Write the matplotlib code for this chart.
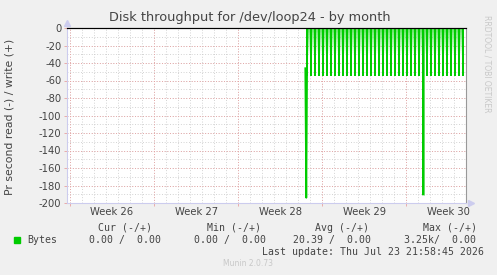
import numpy as np
import pandas as pd
import matplotlib
matplotlib.use('Agg')
import matplotlib.pyplot as plt
import matplotlib.dates as mdates

# x axis: iso weeks, mondays
week_names = ['Week 26', 'Week 27', 'Week 28', 'Week 29', 'Week 30']
week_starts = pd.to_datetime(['2026-06-22', '2026-06-29', '2026-07-06',
                              '2026-07-13', '2026-07-20'])

# read bytes/s (drawn negative), a spike every 8 hours
spike_times = pd.date_range('2026-07-11 18:00', periods=40, freq='8h')
spike_vals = [-55, -55, -55, -55, -55, -55, -55, -55, -55, -55,
              -55, -55, -55, -55, -55, -55, -55, -55, -55, -55,
              -55, -55, -55, -55, -55, -55, -55, -55, -55, -191,
              -55, -55, -55, -55, -55, -55, -55, -55, -55, -55]
# first samples after the gap
start_times = pd.to_datetime(['2026-07-11 14:00', '2026-07-11 16:00', '2026-07-11 18:00'])
start_vals = [-46, -194, 0]

yticks = [0, -20, -40, -60, -80, -100, -120, -140, -160, -180, -200]

legend_head = ['Cur (-/+)', 'Min (-/+)', 'Avg (-/+)', 'Max (-/+)']
legend_vals = ['0.00 /  0.00', '0.00 /  0.00', '20.39 /  0.00', '3.25k/  0.00']

green = '#00cc00'
W, H = 497, 275
fig = plt.figure(figsize=(W / 100, H / 100), dpi=100, facecolor='#f0f0f0')
ax = fig.add_axes([67 / W, 1 - 203 / H, (466 - 67) / W, (203 - 28) / H])
ax.set_facecolor('white')

x0 = mdates.date2num(pd.Timestamp('2026-06-21 18:00'))
x1 = mdates.date2num(pd.Timestamp('2026-07-24 23:00'))

# grid
px = 0.72  # points per pixel
for d in np.arange(np.ceil(x0), x1, 1.0):
    ax.axvline(d, color='#cccccc', lw=0.9 * px, ls=(0, (1, 2)), zorder=0)
for y in range(-190, 0, 10):
    ax.axhline(y, color='#cccccc', lw=0.9 * px, ls=(0, (1, 2)), zorder=0)
for ws in week_starts:
    ax.axvline(mdates.date2num(ws), color='#e8a0a0', lw=0.9 * px, ls=(0, (1, 2)), zorder=0.5)
for y in yticks[1:-1]:
    ax.axhline(y, color='#e8a0a0', lw=0.9 * px, ls=(0, (1, 2)), zorder=0.5)

# light green haze near the top under the spikes (antialiasing look of rrdtool)
tnum = mdates.date2num(spike_times)
edges = np.linspace(0, -30, 16)
for i in range(15):
    a = 0.75 * (1 - i / 15)
    ax.fill_between([tnum[0], tnum[-1]], edges[i], edges[i + 1], color='#33dd33',
                    alpha=a, lw=0, zorder=1)

big = [i for i, v in enumerate(spike_vals) if v < -100]
ax.vlines(tnum[big], 0, [spike_vals[i] for i in big], color='#66dd66', lw=3 * px, zorder=2)
ax.vlines(tnum, 0, spike_vals, color=green, lw=2.0 * px, zorder=3)
ax.plot(mdates.date2num(start_times), start_vals, color=green, lw=1.8 * px, zorder=3)

ax.axhline(0, color='black', lw=1.2 * px, zorder=4, clip_on=False)
ax.set_xlim(x0, x1)
ax.set_ylim(-200, 0)

# axes frame
ax.spines['top'].set_visible(False)
ax.spines['left'].set_color('#ccccee')
ax.spines['bottom'].set_color('#ccccee')
ax.spines['right'].set_color('#999999')
for s in ax.spines.values():
    s.set_linewidth(0.8)
ax.plot([0], [1.03], marker='^', color='#ccccee', ms=5, transform=ax.transAxes, clip_on=False)
ax.plot([1.012], [0], marker='>', color='#ccccee', ms=5, transform=ax.transAxes, clip_on=False)

ax.set_yticks(yticks)
ax.set_yticklabels([str(v) for v in yticks], fontsize=7.2, color='#444444')
ax.set_xticks(mdates.date2num(week_starts))
ax.set_xticklabels([])
ax.tick_params(axis='both', length=2, width=0.6, color='#e8a0a0', pad=2)
for ws, name in zip(week_starts, week_names):
    ax.text(mdates.date2num(ws) + 3.5, -205, name, ha='center', va='top',
            fontsize=7.2, color='#444444', clip_on=False)

fig.text(10 / W, 1 - 117 / H, 'Pr second read (-) / write (+)', rotation=90,
         ha='center', va='center', fontsize=7.8, color='#444444')

fig.text(250 / W, 1 - 18 / H, 'Disk throughput for /dev/loop24 - by month',
         ha='center', va='center', fontsize=9.3, color='#444444')
fig.text(487 / W, 1 - 15 / H, 'RRDTOOL / TOBI OETIKER', rotation=270, ha='center', va='top',
         fontsize=5.5, color='#c8c8c8')

mono = 'DejaVu Sans Mono'
for xs, t in zip([98, 207, 315, 423], legend_head):
    fig.text(xs / W, 1 - 228 / H, t, family=mono, fontsize=7.1, color='#444444', va='center')
for xs, t in zip([89, 194, 293, 404], legend_vals):
    fig.text(xs / W, 1 - 240 / H, t, family=mono, fontsize=7.1, color='#444444', va='center')
fig.patches.append(plt.Rectangle((14 / W, 1 - 242.5 / H), 6 / W, 6 / H, color=green,
                                 transform=fig.transFigure))
fig.text(27 / W, 1 - 240 / H, 'Bytes', family=mono, fontsize=7.1, color='#444444', va='center')
fig.text(262 / W, 1 - 252 / H, 'Last update: Thu Jul 23 21:58:45 2026', family=mono,
         fontsize=7.1, color='#444444', va='center')
fig.text(248 / W, 1 - 264 / H, 'Munin 2.0.73', ha='center', va='center', fontsize=5.5,
         color='#c8c8c8')

fig.savefig('out.png', dpi=100, facecolor=fig.get_facecolor())
